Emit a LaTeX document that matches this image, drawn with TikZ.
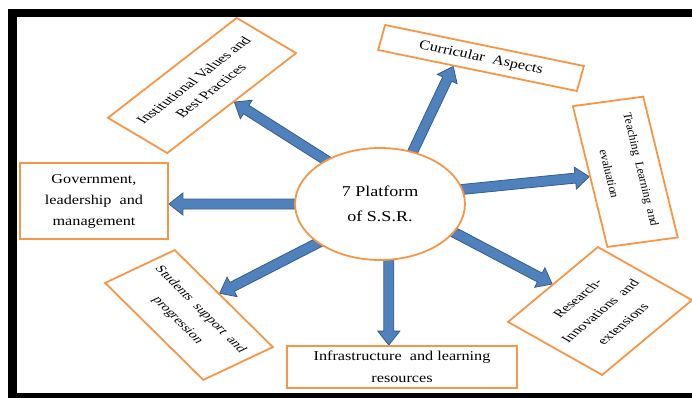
\documentclass[tikz,border=0pt]{standalone}
\usepackage{fontspec}
\setmainfont{Liberation Serif}
\newfontfamily\widefont[FakeStretch=1.2]{Liberation Serif}
\usetikzlibrary{calc,shapes.geometric}
\definecolor{boxorange}{HTML}{F79646}
\definecolor{arrowfill}{HTML}{4F81BD}
\definecolor{arrowline}{HTML}{385D8A}
\pgfdeclarelayer{bg}
\pgfsetlayers{bg,main}
\tikzset{
  box/.style={draw=boxorange, line width=1.8pt, fill=white, align=center, inner sep=2pt},
  hub/.style={ellipse, draw=boxorange, line width=1.8pt, fill=white, align=center,
    minimum width=170pt, minimum height=112pt},
  blockarrow/.style={fill=arrowfill, draw=arrowline, line width=0.8pt, line join=miter},
  framebar/.style={fill=black, draw=none},
}
\newcommand\blockarr[2]{%
  \path[blockarrow]
    ($(#1)!5pt!90:(#2)$) --
    ($($(#2)!14pt!(#1)$)!5pt!90:(#2)$) --
    ($($(#2)!14pt!(#1)$)!11pt!90:(#2)$) --
    (#2) --
    ($($(#2)!14pt!(#1)$)!11pt!-90:(#2)$) --
    ($($(#2)!14pt!(#1)$)!5pt!-90:(#2)$) --
    ($(#1)!5pt!-90:(#2)$) -- cycle;}
\begin{document}
\begin{tikzpicture}[x=1pt,y=-1pt]
\useasboundingbox (0,0) rectangle (692,398);

% central hub
\node[hub, font=\widefont\fontsize{15}{25}\selectfont] (hub) at (380,204) {7 Platform\\of S.S.R.};

% surrounding boxes (slanted like the stretched original)
\node[box, cm={0.790,0.613,-0.860,0.510,(0,0)}, minimum width=163pt, minimum height=69pt,
  font=\fontsize{14.5}{20}\selectfont] (ins) at (202,85.5) {Institutional Values and\\Best Practices};
\node[box, cm={0.979,-0.202,0.269,0.962,(0,0)}, minimum width=203pt, minimum height=26pt,
  font=\widefont\fontsize{13.5}{16}\selectfont] (cur) at (481,58) {Curricular\ \ Aspects};
\node[box, cm={0.238,-0.971,0.991,0.134,(0,0)}, minimum width=145pt, minimum height=71pt,
  font=\fontsize{12}{32}\selectfont] (tea) at (625.3,171.8) {Teaching\ \ Learning\ \ and\\evaluation};
\node[box, minimum width=148pt, minimum height=76pt,
  font=\widefont\fontsize{13.5}{21}\selectfont] (gov) at (94,201) {Government,\\leadership\ \ and\\management};
\node[box, cm={0.711,-0.703,0.904,0.426,(0,0)}, minimum width=138pt, minimum height=77pt,
  font=\fontsize{13.5}{25}\selectfont] (stu) at (189,315) {Students\ \ support\ \ and\\progression};
\node[box, minimum width=230pt, minimum height=42pt,
  font=\widefont\fontsize{13.5}{22}\selectfont] (inf) at (402,367) {Infrastructure\ \ and learning\\resources};
\node[box, cm={0.768,0.640,-0.871,0.491,(0,0)}, minimum width=117pt, minimum height=108pt,
  font=\fontsize{14}{26}\selectfont] (res) at (600,311) {Research-\\Innovations\ \ and\\extensions};

% arrow tips on the boxes
\coordinate (t1) at ($(ins.south)!0.03!(ins.south east)$);
\coordinate (t2) at ($(cur.south)!0.24!(cur.south west)$);
\coordinate (t3) at (tea.south);
\coordinate (t4) at (gov.east |- hub.west);
\coordinate (t5) at ($(stu.north)!0.1!(stu.north west)$);
\coordinate (t6) at ($(inf.north west)!0.443!(inf.north east)$);
\coordinate (t7) at (res.north);

% arrow starts (just inside the hub)
\coordinate (s1) at ($(hub.141)!-6pt!(t1)$);
\coordinate (s2) at ($(hub.58)!-6pt!(t2)$);
\coordinate (s3) at ($(hub.10)!-6pt!(t3)$);
\coordinate (s4) at ($(hub.west)!-6pt!(t4)$);
\coordinate (s5) at ($(hub.212)!-6pt!(t5)$);
\coordinate (s6) at ($(t6 |- hub.south)!-6pt!(t6)$);
\coordinate (s7) at ($(hub.-21)!-6pt!(t7)$);

\begin{pgfonlayer}{bg}
\blockarr{s1}{t1}
\blockarr{s2}{t2}
\blockarr{s3}{t3}
\blockarr{s4}{t4}
\blockarr{s5}{t5}
\blockarr{s6}{t6}
\blockarr{s7}{t7}
\end{pgfonlayer}

% black frame
\fill[framebar] (8,9) rectangle (17,398);
\fill[framebar] (8,9) rectangle (692,17);
\fill[framebar] (8,393) rectangle (692,398);
\end{tikzpicture}
\end{document}
